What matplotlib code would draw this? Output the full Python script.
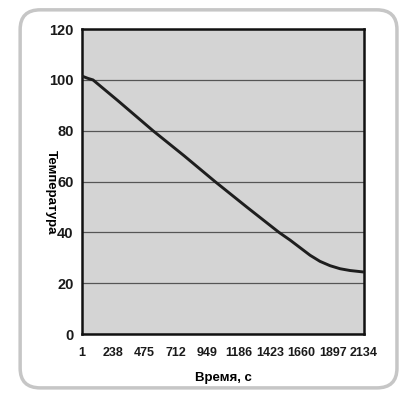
import matplotlib
matplotlib.use("Agg")
import matplotlib.pyplot as plt
from matplotlib.patches import FancyBboxPatch

# data
time_s = [1, 46, 84, 273, 538, 772, 1007, 1249, 1491, 1574, 1650, 1726, 1801, 1877, 1953, 2028, 2134]
temperature = [101.5, 100.6, 100, 91.8, 80, 70.2, 60, 49.9, 40, 37.0, 34.0, 31.0, 28.6, 26.9, 25.7, 25.0, 24.4]

x_ticks = [1, 238, 475, 712, 949, 1186, 1423, 1660, 1897, 2134]
y_ticks = [0, 20, 40, 60, 80, 100, 120]

plt.rcParams['font.family'] = ['Liberation Sans', 'DejaVu Sans']
plt.rcParams['font.weight'] = 'bold'

fig = plt.figure(figsize=(4.03, 3.93), dpi=100)
fig.patch.set_facecolor("white")

# rounded frame round the whole picture
frame = FancyBboxPatch(
    (0.05, 0.013), 0.935, 0.962,
    boxstyle="round,pad=0,rounding_size=0.05",
    transform=fig.transFigure,
    facecolor="none",
    edgecolor="#c6c6c6",
    linewidth=2.5,
    zorder=-1
)
fig.patches.append(frame)

ax = fig.add_axes([0.2035, 0.150, 0.6998, 0.776])
ax.set_facecolor("#d4d4d4")

ax.plot(time_s, temperature, color="#1e1e1e", linewidth=2.1, zorder=3,
        solid_joinstyle="round")

ax.set_xlim(1, 2134)
ax.set_ylim(0, 120)
ax.set_xticks(x_ticks)
ax.set_xticklabels([str(v) for v in x_ticks], fontsize=9, fontweight="bold")
ax.set_yticks(y_ticks)
ax.set_yticklabels([str(v) for v in y_ticks], fontsize=10.5, fontweight="bold")
ax.tick_params(axis="both", length=0, colors="#1a1a1a")
ax.tick_params(axis="y", pad=6)
ax.tick_params(axis="x", pad=9)

ax.yaxis.grid(True, color="#555555", linewidth=0.9)
ax.set_axisbelow(True)

for side in ax.spines.values():
    side.set_linewidth(1.8)
    side.set_color("#111111")

ax.set_xlabel("Время, с", fontsize=9.5, fontweight="bold", labelpad=10)
ax.set_ylabel("Температура", fontsize=9.5, fontweight="bold", rotation=-90)
ax.yaxis.set_label_coords(-0.13, 0.465)

fig.savefig("out.png", dpi=100)
